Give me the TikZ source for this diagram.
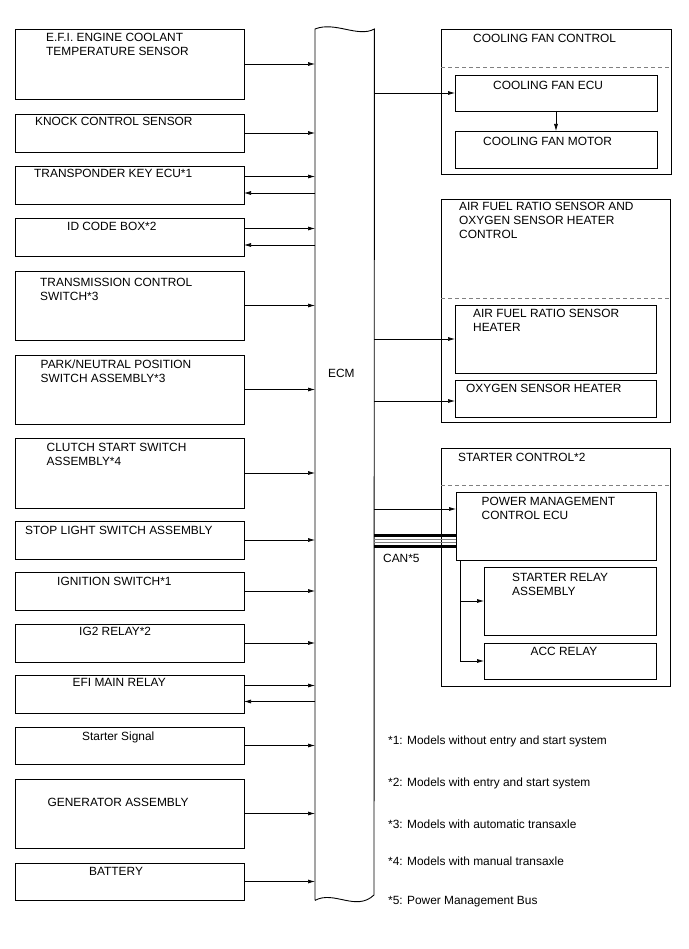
\documentclass[tikz,border=0pt]{standalone}
\usepackage{fontspec}
\setmainfont{Liberation Sans}
\usetikzlibrary{arrows.meta}

\begin{document}
\begin{tikzpicture}[x=1pt,y=-1pt,
    box/.style={draw, line width=0.9pt, inner sep=0pt, outer sep=0pt, anchor=north west},
    lbl/.style={anchor=base west, inner sep=0pt, align=left,
      font=\fontsize{11.9}{14}\selectfont},
    sig/.style={line width=0.7pt, -{Latex[length=7pt,width=4pt]}},
    sep/.style={draw=gray, line width=0.8pt, dash pattern=on 4pt off 3pt}]
  \useasboundingbox (0,0) rectangle (688,949);
  % inputs on the left (multi-line labels sit on their last baseline)
  \node[box, minimum width=229, minimum height=70] (ect) at (15,29) {};
  \node[box, minimum width=229, minimum height=38] (knock) at (15,114) {};
  \node[box, minimum width=229, minimum height=38] (tke) at (15,166) {};
  \node[box, minimum width=229, minimum height=38] (idbox) at (15,218) {};
  \node[box, minimum width=229, minimum height=69] (tcs) at (15,271) {};
  \node[box, minimum width=229, minimum height=69] (pnp) at (15,355) {};
  \node[box, minimum width=229, minimum height=70] (css) at (15,438) {};
  \node[box, minimum width=229, minimum height=38] (stop) at (15,521) {};
  \node[box, minimum width=229, minimum height=38] (ign) at (15,572) {};
  \node[box, minimum width=229, minimum height=38] (igtwo) at (15,624) {};
  \node[box, minimum width=229, minimum height=38] (efi) at (15,675) {};
  \node[box, minimum width=229, minimum height=37] (stsig) at (15,727) {};
  \node[box, minimum width=229, minimum height=69] (gen) at (15,779) {};
  \node[box, minimum width=229, minimum height=37] (batt) at (15,863) {};
  \node[lbl] (ect-t) at (46,55.5) {E.F.I. ENGINE COOLANT\\TEMPERATURE SENSOR};
  \node[lbl] (knock-t) at (35,126) {KNOCK CONTROL SENSOR};
  \node[lbl] (tke-t) at (34,178) {TRANSPONDER KEY ECU*1};
  \node[lbl] (idbox-t) at (67,230.5) {ID CODE BOX*2};
  \node[lbl] (tcs-t) at (40,301) {TRANSMISSION CONTROL\\SWITCH*3};
  \node[lbl] (pnp-t) at (40.5,382) {PARK/NEUTRAL POSITION\\SWITCH ASSEMBLY*3};
  \node[lbl] (css-t) at (46.5,465) {CLUTCH START SWITCH\\ASSEMBLY*4};
  \node[lbl] (stop-t) at (25,534) {STOP LIGHT SWITCH ASSEMBLY};
  \node[lbl] (ign-t) at (57,585) {IGNITION SWITCH*1};
  \node[lbl] (igtwo-t) at (79,635) {IG2 RELAY*2};
  \node[lbl] (efi-t) at (72.5,686.5) {EFI MAIN RELAY};
  \node[lbl] (stsig-t) at (82,740) {Starter Signal};
  \node[lbl] (gen-t) at (47.5,806) {GENERATOR ASSEMBLY};
  \node[lbl] (batt-t) at (89,875) {BATTERY};
  % ECM
  \node[anchor=north west, inner sep=0pt, minimum width=59, minimum height=871] (ecm) at (315,29) {};
  \draw[line width=0.9pt] (ecm.south west) -- (ecm.north west)
    .. controls (335,21) and (358,38) .. (ecm.north east) -- (374,895)
    .. controls (356,912) and (334,890) .. (ecm.south west);
  \node[lbl] (ecm-t) at (328,377) {ECM};
  \draw[sig] (ect) -- (ect -| ecm.west);
  \draw[sig] (knock) -- (knock -| ecm.west);
  \draw[sig] ([yshift=8.5pt]tke.east) -- ([yshift=8.5pt]tke.east -| ecm.west);
  \draw[sig] ([yshift=-8pt]tke.east -| ecm.west) -- ([yshift=-8pt]tke.east);
  \draw[sig] ([yshift=8.5pt]idbox.east) -- ([yshift=8.5pt]idbox.east -| ecm.west);
  \draw[sig] ([yshift=-8pt]idbox.east -| ecm.west) -- ([yshift=-8pt]idbox.east);
  \draw[sig] (tcs) -- (tcs -| ecm.west);
  \draw[sig] (pnp) -- (pnp -| ecm.west);
  \draw[sig] (css) -- (css -| ecm.west);
  \draw[sig] (stop) -- (stop -| ecm.west);
  \draw[sig] (ign) -- (ign -| ecm.west);
  \draw[sig] (igtwo) -- (igtwo -| ecm.west);
  \draw[sig] ([yshift=8.5pt]efi.east) -- ([yshift=8.5pt]efi.east -| ecm.west);
  \draw[sig] ([yshift=-7.5pt]efi.east -| ecm.west) -- ([yshift=-7.5pt]efi.east);
  \draw[sig] (stsig) -- (stsig -| ecm.west);
  \draw[sig] (gen) -- (gen -| ecm.west);
  \draw[sig] (batt) -- (batt -| ecm.west);
  % cooling fan
  \node[box, minimum width=230, minimum height=145] (fanctl) at (441,29) {};
  \draw[sep] ([yshift=-38pt]fanctl.north west) -- ([yshift=-38pt]fanctl.north east);
  \node[box, minimum width=202, minimum height=36] (fanecu) at (455,75) {};
  \node[box, minimum width=202, minimum height=37] (fanmot) at (455,131) {};
  \node[lbl] (fanctl-t) at (473,42.7) {COOLING FAN CONTROL};
  \node[lbl] (fanecu-t) at (493,90) {COOLING FAN ECU};
  \node[lbl] (fanmot-t) at (483,145.5) {COOLING FAN MOTOR};
  \draw[sig] (fanecu -| ecm.east) -- (fanecu);
  \draw[sig] (fanecu) -- (fanmot);
  % air fuel ratio / oxygen sensor heaters
  \node[box, minimum width=229, minimum height=223] (afrctl) at (441,199) {};
  \draw[sep] ([yshift=-99pt]afrctl.north west) -- ([yshift=-99pt]afrctl.north east);
  \node[box, minimum width=201, minimum height=68] (afrh) at (455,305) {};
  \node[box, minimum width=201, minimum height=37] (oxh) at (455,380) {};
  \node[lbl] (afrctl-t) at (459,239) {AIR FUEL RATIO SENSOR AND\\OXYGEN SENSOR HEATER\\CONTROL};
  \node[lbl] (afrh-t) at (473,331.5) {AIR FUEL RATIO SENSOR\\HEATER};
  \node[lbl] (oxh-t) at (466,392) {OXYGEN SENSOR HEATER};
  \draw[sig] (afrh -| ecm.east) -- (afrh);
  \draw[sig] ([yshift=-2.5pt]oxh.west -| ecm.east) -- ([yshift=-2.5pt]oxh.west);
  % starter control
  \node[box, minimum width=229, minimum height=238] (stctl) at (441,448) {};
  \draw[sep] ([yshift=-37pt]stctl.north west) -- ([yshift=-37pt]stctl.north east);
  \node[box, minimum width=200, minimum height=68] (pmecu) at (456,492) {};
  \node[box, minimum width=172, minimum height=68] (strel) at (484,567) {};
  \node[box, minimum width=172, minimum height=36] (accrel) at (484,643) {};
  \node[lbl] (stctl-t) at (458,461) {STARTER CONTROL*2};
  \node[lbl] (pmecu-t) at (481.5,519) {POWER MANAGEMENT\\CONTROL ECU};
  \node[lbl] (strel-t) at (512,595.5) {STARTER RELAY\\ASSEMBLY};
  \node[lbl] (accrel-t) at (530.5,655) {ACC RELAY};
  \draw[sig] ([yshift=17pt]pmecu.west -| ecm.east) -- ([yshift=17pt]pmecu.west);
  \draw[sig] ([xshift=4pt]pmecu.south west) |- (strel);
  \draw[sig] ([xshift=4pt]pmecu.south west) |- (accrel);
  % CAN bus
  \draw[line width=3pt] ([yshift=-9.5pt]pmecu.west -| ecm.east) -- ([yshift=-9.5pt]pmecu.west);
  \draw[line width=0.8pt, gray] ([yshift=-13.3pt]pmecu.west -| ecm.east) -- ([yshift=-13.3pt]pmecu.west);
  \draw[line width=0.8pt, gray] ([yshift=-16.7pt]pmecu.west -| ecm.east) -- ([yshift=-16.7pt]pmecu.west);
  \draw[line width=3pt] ([yshift=-20.5pt]pmecu.west -| ecm.east) -- ([yshift=-20.5pt]pmecu.west);
  \node[lbl] (can-t) at (383,562.5) {CAN*5};
  % notes
  \node[lbl] (note1) at (388,744) {*1: Models without entry and start system};
  \node[lbl] (note2) at (388,786.5) {*2: Models with entry and start system};
  \node[lbl] (note3) at (388,828) {*3: Models with automatic transaxle};
  \node[lbl] (note4) at (388,865.5) {*4: Models with manual transaxle};
  \node[lbl] (note5) at (388,904) {*5: Power Management Bus};
\end{tikzpicture}
\end{document}
